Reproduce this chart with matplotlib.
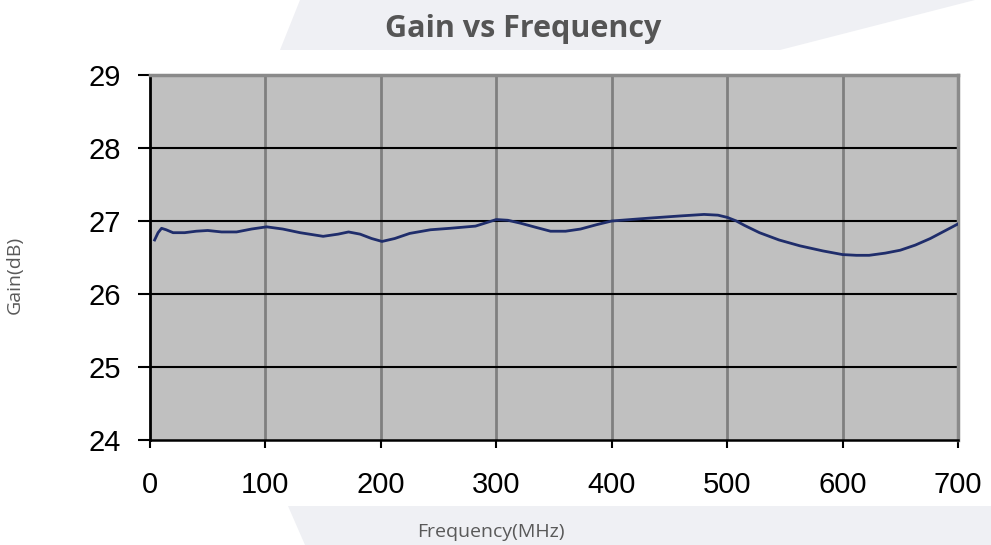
import matplotlib.pyplot as plt
from matplotlib.patches import Polygon

# Gain vs Frequency
freq = [4, 7, 10, 14, 20, 30, 40, 50, 62, 75, 88, 101, 115, 130, 150,
        163, 172, 182, 192, 201, 212, 225, 243, 260, 282, 292, 300, 310,
        321, 335, 347, 360, 373, 387, 400, 433, 460, 480, 492, 500, 508,
        515, 528, 545, 563, 583, 600, 612, 623, 637, 650, 663, 676, 688, 700]
gain = [26.74, 26.84, 26.90, 26.88, 26.84, 26.84, 26.86, 26.87, 26.85, 26.85,
        26.89, 26.92, 26.89, 26.84, 26.79, 26.82, 26.85, 26.82, 26.76, 26.72,
        26.76, 26.83, 26.88, 26.90, 26.93, 26.98, 27.02, 27.01,
        26.97, 26.91, 26.86, 26.86, 26.89, 26.95, 27.00, 27.04, 27.07, 27.09, 27.08, 27.05, 27.00,
        26.94, 26.84, 26.74, 26.66, 26.59, 26.54, 26.53, 26.53, 26.56, 26.60, 26.67, 26.76, 26.86, 26.96]

xticks = [0, 100, 200, 300, 400, 500, 600, 700]
yticks = [24, 25, 26, 27, 28, 29]

fig = plt.figure(figsize=(9.91, 5.45), dpi=100)
fig.patch.set_facecolor('white')

# faint background shapes
band_col = '#eff0f4'
W, H = 991, 545
def px(pts):
    return [(x / W, 1 - y / H) for x, y in pts]
fig.patches.append(Polygon(px([(300, 0), (975, 0), (780, 50), (280, 50)]),
                           closed=True, transform=fig.transFigure,
                           facecolor=band_col, edgecolor='none', zorder=0))
fig.patches.append(Polygon(px([(288, 506), (991, 506), (991, 545), (305, 545)]),
                           closed=True, transform=fig.transFigure,
                           facecolor=band_col, edgecolor='none', zorder=0))

ax = fig.add_axes([150 / W, 1 - 440 / H, 808 / W, 365 / H])
ax.set_facecolor('#c0c0c0')
ax.plot(freq, gain, color='#1f2d6b', lw=2, zorder=3)

ax.set_xlim(0, 700)
ax.set_ylim(24, 29)
ax.set_xticks(xticks)
ax.set_yticks(yticks)

for y in yticks[1:-1]:
    ax.axhline(y, color='black', lw=1.5, zorder=2)
for x in xticks[1:-1]:
    ax.axvline(x, color='#7f7f7f', lw=2, zorder=1)

ax.spines['left'].set_color('black')
ax.spines['left'].set_linewidth(2)
ax.spines['bottom'].set_color('black')
ax.spines['bottom'].set_linewidth(1.8)
for s in ['top', 'right']:
    ax.spines[s].set_color('#8a8a8a')
    ax.spines[s].set_linewidth(2.5)

ax.tick_params(axis='y', direction='out', length=9, width=1.5, pad=12,
               labelsize=21, colors='black')
ax.tick_params(axis='x', direction='out', length=6, width=1.5, pad=16,
               labelsize=21, colors='black')
for lab in ax.get_xticklabels() + ax.get_yticklabels():
    lab.set_fontfamily('Liberation Sans')

fig.text(523 / W, 1 - 29 / H, 'Gain vs Frequency', ha='center', va='center',
         fontsize=22, fontweight='bold', color='#555555', family='Open Sans')
fig.text(15 / W, 1 - 275 / H, 'Gain(dB)', ha='center', va='center',
         rotation=90, fontsize=14, color='#595959', family='Open Sans')
fig.text(491 / W, 1 - 532 / H, 'Frequency(MHz)', ha='center', va='center',
         fontsize=14, color='#595959', family='Open Sans')

fig.savefig('out.png', dpi=100)
